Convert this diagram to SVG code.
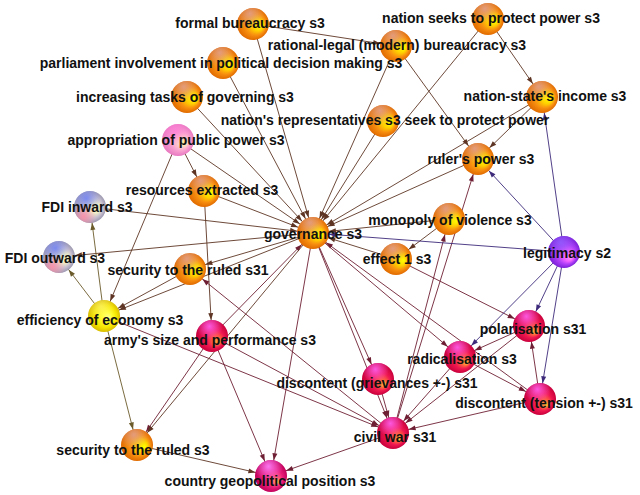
<svg xmlns="http://www.w3.org/2000/svg" width="640" height="495" viewBox="0 0 640 495">
<style>
.lb{font-family:"Liberation Sans",Arial,sans-serif;font-weight:bold;font-size:14px;fill:#111;text-anchor:middle}
.e line{stroke-width:0.9;fill:none}
.b{stroke:#5e3524;marker-end:url(#mb)}
.r{stroke:#6e1f33;marker-end:url(#mr)}
.p{stroke:#3d2a7a;marker-end:url(#mp)}
.y{stroke:#6b5a2a;marker-end:url(#my)}
</style>
<defs>
<marker id="mb" markerWidth="30" markerHeight="6" refX="23" refY="2.5" orient="auto" markerUnits="userSpaceOnUse" overflow="visible"><path d="M0,0 L7,2.5 L0,5 z" fill="#5e3524"/></marker>
<marker id="mr" markerWidth="30" markerHeight="6" refX="23" refY="2.5" orient="auto" markerUnits="userSpaceOnUse" overflow="visible"><path d="M0,0 L7,2.5 L0,5 z" fill="#6e1f33"/></marker>
<marker id="mp" markerWidth="30" markerHeight="6" refX="23" refY="2.5" orient="auto" markerUnits="userSpaceOnUse" overflow="visible"><path d="M0,0 L7,2.5 L0,5 z" fill="#3d2a7a"/></marker>
<marker id="my" markerWidth="30" markerHeight="6" refX="23" refY="2.5" orient="auto" markerUnits="userSpaceOnUse" overflow="visible"><path d="M0,0 L7,2.5 L0,5 z" fill="#6b5a2a"/></marker>
<radialGradient id="gO" cx="0.5" cy="0.5" r="0.5" fx="0.75" fy="0.56"><stop offset="0" stop-color="#ffff00"/><stop offset="0.35" stop-color="#ffd000"/><stop offset="0.65" stop-color="#f89010"/><stop offset="1" stop-color="#e06a00"/></radialGradient>
<radialGradient id="tO" cx="0.4" cy="0.18" r="0.45"><stop offset="0" stop-color="#e0a090" stop-opacity="0.85"/><stop offset="1" stop-color="#e0a090" stop-opacity="0"/></radialGradient>
<radialGradient id="gR" cx="0.5" cy="0.5" r="0.5" fx="0.72" fy="0.7"><stop offset="0" stop-color="#ffd030"/><stop offset="0.25" stop-color="#ff6040"/><stop offset="0.55" stop-color="#f01850"/><stop offset="1" stop-color="#c8003c"/></radialGradient>
<radialGradient id="tR" cx="0.42" cy="0.2" r="0.42"><stop offset="0" stop-color="#ff60f0" stop-opacity="0.9"/><stop offset="1" stop-color="#ff60f0" stop-opacity="0"/></radialGradient>
<radialGradient id="gC" cx="0.5" cy="0.5" r="0.5" fx="0.72" fy="0.7"><stop offset="0" stop-color="#ffd040"/><stop offset="0.25" stop-color="#ff5080"/><stop offset="0.55" stop-color="#e81c78"/><stop offset="1" stop-color="#c0005a"/></radialGradient>
<radialGradient id="tC" cx="0.42" cy="0.2" r="0.45"><stop offset="0" stop-color="#ff80ff" stop-opacity="0.9"/><stop offset="1" stop-color="#ff80ff" stop-opacity="0"/></radialGradient>
<radialGradient id="gP" cx="0.5" cy="0.5" r="0.5" fx="0.72" fy="0.6"><stop offset="0" stop-color="#ffff90"/><stop offset="0.3" stop-color="#ffd0c8"/><stop offset="0.6" stop-color="#f8a0d0"/><stop offset="1" stop-color="#e878c0"/></radialGradient>
<radialGradient id="tP" cx="0.4" cy="0.2" r="0.45"><stop offset="0" stop-color="#ff80d8" stop-opacity="0.8"/><stop offset="1" stop-color="#ff80d8" stop-opacity="0"/></radialGradient>
<radialGradient id="gF" cx="0.5" cy="0.5" r="0.5" fx="0.72" fy="0.55"><stop offset="0" stop-color="#ffffc0"/><stop offset="0.3" stop-color="#f0f0c8"/><stop offset="0.65" stop-color="#c8c0d0"/><stop offset="1" stop-color="#9c98b0"/></radialGradient>
<radialGradient id="tF" cx="0.38" cy="0.22" r="0.45"><stop offset="0" stop-color="#7888f0" stop-opacity="0.95"/><stop offset="1" stop-color="#7888f0" stop-opacity="0"/></radialGradient>
<radialGradient id="bF" cx="0.3" cy="0.8" r="0.4"><stop offset="0" stop-color="#ff90a8" stop-opacity="0.9"/><stop offset="1" stop-color="#ff90a8" stop-opacity="0"/></radialGradient>
<radialGradient id="gY" cx="0.5" cy="0.5" r="0.5" fx="0.65" fy="0.55"><stop offset="0" stop-color="#ffff90"/><stop offset="0.3" stop-color="#ffff30"/><stop offset="0.7" stop-color="#f5e400"/><stop offset="1" stop-color="#d8bc00"/></radialGradient>
<radialGradient id="tY" cx="0.4" cy="0.2" r="0.45"><stop offset="0" stop-color="#fff8a0" stop-opacity="0.5"/><stop offset="1" stop-color="#fff8a0" stop-opacity="0"/></radialGradient>
<radialGradient id="gV" cx="0.5" cy="0.5" r="0.5" fx="0.72" fy="0.7"><stop offset="0" stop-color="#ff90ff"/><stop offset="0.3" stop-color="#f060ff"/><stop offset="0.6" stop-color="#b040f8"/><stop offset="1" stop-color="#7a20d8"/></radialGradient>
<radialGradient id="tV" cx="0.4" cy="0.2" r="0.45"><stop offset="0" stop-color="#9060ff" stop-opacity="0.8"/><stop offset="1" stop-color="#9060ff" stop-opacity="0"/></radialGradient>
<g id="sO"><circle r="16" fill="url(#gO)"/><circle r="16" fill="url(#tO)"/></g>
<g id="sR"><circle r="16" fill="url(#gR)"/><circle r="16" fill="url(#tR)"/></g>
<g id="sC"><circle r="16" fill="url(#gC)"/><circle r="16" fill="url(#tC)"/></g>
<g id="sP"><circle r="16" fill="url(#gP)"/><circle r="16" fill="url(#tP)"/></g>
<g id="sF"><circle r="16" fill="url(#gF)"/><circle r="16" fill="url(#tF)"/><circle r="16" fill="url(#bF)"/></g>
<g id="sY"><circle r="16" fill="url(#gY)"/><circle r="16" fill="url(#tY)"/></g>
<g id="sV"><circle r="16" fill="url(#gV)"/><circle r="16" fill="url(#tV)"/></g>
</defs>
<rect width="640" height="495" fill="#fff"/>
<g id="connectors" class="e">
<line class="b" x1="253" y1="24" x2="396" y2="46"/>
<line class="b" x1="253" y1="24" x2="313" y2="233"/>
<line class="b" x1="223" y1="63" x2="313" y2="233"/>
<line class="b" x1="187" y1="97" x2="313" y2="233"/>
<line class="b" x1="178" y1="140" x2="313" y2="233"/>
<line class="b" x1="178" y1="140" x2="204" y2="191"/>
<line class="b" x1="178" y1="140" x2="104" y2="316"/>
<line class="b" x1="396" y1="46" x2="313" y2="233"/>
<line class="b" x1="396" y1="46" x2="478" y2="159"/>
<line class="b" x1="488" y1="19" x2="542" y2="97"/>
<line class="b" x1="488" y1="19" x2="313" y2="233"/>
<line class="b" x1="542" y1="97" x2="478" y2="159"/>
<line class="b" x1="542" y1="97" x2="313" y2="233"/>
<line class="b" x1="383" y1="121" x2="313" y2="233"/>
<line class="b" x1="478" y1="159" x2="313" y2="233"/>
<line class="b" x1="449" y1="219" x2="313" y2="233"/>
<line class="b" x1="449" y1="219" x2="396" y2="259"/>
<line class="b" x1="396" y1="259" x2="313" y2="233"/>
<line class="r" x1="396" y1="259" x2="529" y2="326"/>
<line class="b" x1="204" y1="191" x2="313" y2="233"/>
<line class="b" x1="204" y1="191" x2="212" y2="336"/>
<line class="b" x1="90" y1="207" x2="313" y2="233"/>
<line class="b" x1="313" y1="233" x2="59" y2="257"/>
<line class="b" x1="313" y1="233" x2="190" y2="269"/>
<line class="b" x1="313" y1="233" x2="104" y2="316"/>
<line class="b" x1="190" y1="269" x2="104" y2="316"/>
<line class="y" x1="104" y1="316" x2="90" y2="207"/>
<line class="y" x1="104" y1="316" x2="59" y2="257"/>
<line class="y" x1="104" y1="316" x2="137" y2="445"/>
<line class="r" x1="104" y1="316" x2="393" y2="433"/>
<line class="r" x1="212" y1="336" x2="313" y2="233"/>
<line class="r" x1="212" y1="336" x2="137" y2="445"/>
<line class="r" x1="212" y1="336" x2="271" y2="476"/>
<line class="r" x1="212" y1="336" x2="393" y2="433"/>
<line class="b" x1="313" y1="233" x2="137" y2="445"/>
<line class="b" x1="137" y1="445" x2="271" y2="476"/>
<line class="r" x1="313" y1="233" x2="271" y2="476"/>
<line class="r" x1="393" y1="433" x2="271" y2="476"/>
<line class="r" x1="313" y1="233" x2="378" y2="379"/>
<line class="r" x1="313" y1="233" x2="393" y2="433"/>
<line class="r" x1="313" y1="233" x2="460" y2="357"/>
<line class="r" x1="540" y1="399" x2="313" y2="233"/>
<line class="r" x1="393" y1="433" x2="190" y2="269"/>
<line class="r" x1="393" y1="433" x2="478" y2="159"/>
<line class="r" x1="393" y1="433" x2="449" y2="219"/>
<line class="r" x1="378" y1="379" x2="393" y2="433"/>
<line class="r" x1="460" y1="357" x2="393" y2="433"/>
<line class="r" x1="529" y1="326" x2="393" y2="433"/>
<line class="r" x1="540" y1="399" x2="393" y2="433"/>
<line class="r" x1="460" y1="357" x2="540" y2="399"/>
<line class="r" x1="540" y1="399" x2="529" y2="326"/>
<line class="r" x1="529" y1="326" x2="460" y2="357"/>
<line class="p" x1="564" y1="252" x2="313" y2="233"/>
<line class="p" x1="564" y1="252" x2="478" y2="159"/>
<line class="p" x1="564" y1="252" x2="542" y2="97"/>
<line class="p" x1="564" y1="252" x2="529" y2="326"/>
<line class="p" x1="564" y1="252" x2="540" y2="399"/>
<line class="p" x1="564" y1="252" x2="460" y2="357"/>
</g>
<g id="nodes">
<g id="n-formal"><use href="#sO" x="253" y="24"/><text class="lb" x="250" y="28">formal bureaucracy s3</text></g>
<g id="n-rational"><use href="#sO" x="396" y="46"/><text class="lb" x="397" y="50">rational-legal (modern) bureaucracy s3</text></g>
<g id="n-parliament"><use href="#sO" x="223" y="63"/><text class="lb" x="221" y="68">parliament involvement in political decision making s3</text></g>
<g id="n-nationseeks"><use href="#sO" x="488" y="19"/><text class="lb" x="491" y="23">nation seeks to protect power s3</text></g>
<g id="n-increasing"><use href="#sO" x="187" y="97"/><text class="lb" x="185" y="102">increasing tasks of governing s3</text></g>
<g id="n-income"><use href="#sO" x="542" y="97"/><text class="lb" x="545" y="101">nation-state's income s3</text></g>
<g id="n-representatives"><use href="#sO" x="383" y="121"/><text class="lb" x="385" y="125">nation's representatives s3 seek to protect power</text></g>
<g id="n-appropriation"><use href="#sP" x="178" y="140"/><text class="lb" x="176" y="145">appropriation of public power  s3</text></g>
<g id="n-ruler"><use href="#sO" x="478" y="159"/><text class="lb" x="481" y="164">ruler's power s3</text></g>
<g id="n-resources"><use href="#sO" x="204" y="191"/><text class="lb" x="202" y="195">resources extracted s3</text></g>
<g id="n-fdiin"><use href="#sF" x="90" y="207"/><text class="lb" x="87" y="212">FDI inward s3</text></g>
<g id="n-fdiout"><use href="#sF" x="59" y="257"/><text class="lb" x="55" y="263">FDI outward s3</text></g>
<g id="n-governance"><use href="#sO" x="313" y="233"/><text class="lb" x="313" y="239">governance s3</text></g>
<g id="n-monopoly"><use href="#sO" x="449" y="219"/><text class="lb" x="450" y="225">monopoly of violence s3</text></g>
<g id="n-effect1"><use href="#sO" x="396" y="259"/><text class="lb" x="397" y="264">effect 1 s3</text></g>
<g id="n-legitimacy"><use href="#sV" x="564" y="252"/><text class="lb" x="567" y="258">legitimacy s2</text></g>
<g id="n-security31"><use href="#sO" x="190" y="269"/><text class="lb" x="188" y="275">security to the ruled s31</text></g>
<g id="n-efficiency"><use href="#sY" x="104" y="316"/><text class="lb" x="100" y="325">efficiency of economy s3</text></g>
<g id="n-polarisation"><use href="#sR" x="529" y="326"/><text class="lb" x="533" y="334">polarisation s31</text></g>
<g id="n-army"><use href="#sR" x="212" y="336"/><text class="lb" x="210" y="345">army's size and performance s3</text></g>
<g id="n-radicalisation"><use href="#sR" x="460" y="357"/><text class="lb" x="462" y="364">radicalisation s3</text></g>
<g id="n-grievances"><use href="#sR" x="378" y="379"/><text class="lb" x="377" y="388">discontent (grievances +-) s31</text></g>
<g id="n-tension"><use href="#sR" x="540" y="399"/><text class="lb" x="544" y="408">discontent (tension +-) s31</text></g>
<g id="n-civilwar"><use href="#sR" x="393" y="433"/><text class="lb" x="395" y="442">civil war s31</text></g>
<g id="n-security3"><use href="#sO" x="137" y="445"/><text class="lb" x="133" y="455">security to the ruled s3</text></g>
<g id="n-country"><use href="#sC" x="271" y="476"/><text class="lb" x="270" y="486">country geopolitical position s3</text></g>
</g>
</svg>
